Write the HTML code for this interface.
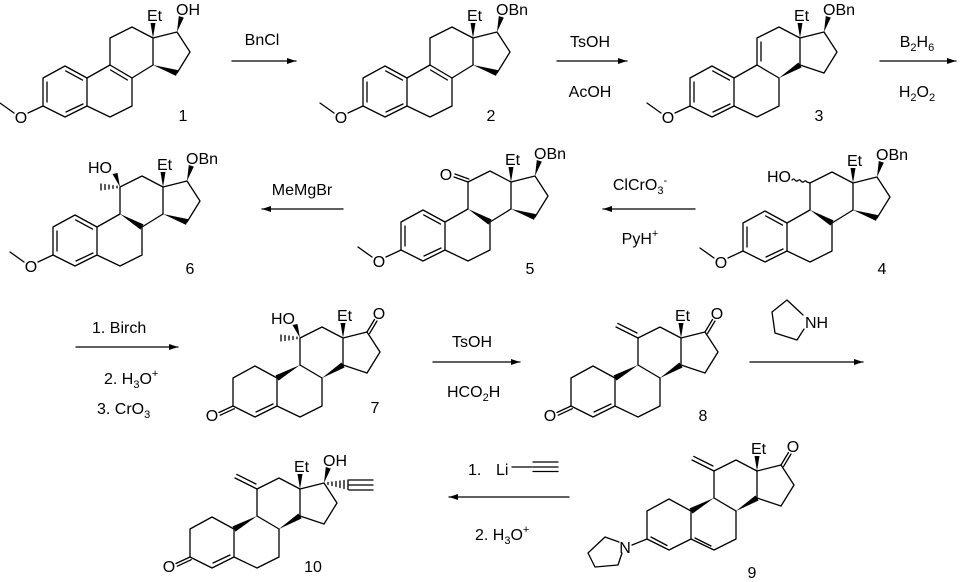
<!DOCTYPE html>
<html><head><meta charset="utf-8"><style>
html,body{margin:0;padding:0;background:#fff;}
svg{display:block;}
text{font-family:"Liberation Sans",Arial,sans-serif;font-size:16px;fill:#000;}
.b{fill:none;stroke:#000;stroke-width:1.3;stroke-linecap:round;stroke-linejoin:round;}
.w{fill:#000;stroke:none;}
</style></head><body>
<svg width="960" height="582" viewBox="0 0 960 582" xmlns="http://www.w3.org/2000/svg">
<defs>
<path id="sk" class="b" d="M65,66 L43,78 L43,106 L65,117 L87,106 L87,78 Z M87,106 L110,117 L132,106 L132,78 M110,65 L110,38 L132,27 L153,38 L153,65 M153,38 L177,32 L190,52 L177,73"/>
<path id="aro" class="b" d="M47,82 L47,102 M65.7,70.9 L82.5,80.1 M66,112 L83,104 M43,106 L28,113 M14,113 L0,103"/>
<polygon id="w1415" class="w" points="153,65 176.05,75.85 177.95,70.15"/>
<polygon id="w98" class="w" points="110,65 130.47,80.58 133.53,75.42"/>
<polygon id="w814" class="w" points="132,78 154.58,67.55 151.42,62.45"/>
<polygon id="w910" class="w" points="110,65 85.52,75.39 88.48,80.61"/>
<polygon id="wEt" class="w" points="153,38 150.5,23 155.5,23"/>
<polygon id="wO17" class="w" points="177,32 178.8,16 183.8,17.6"/>
<path id="l910" class="b" d="M87,78 L110,65"/>
<path id="l98" class="b" d="M110,65 L132,78"/>
<path id="l814" class="b" d="M132,78 L153,65"/>
<path id="l1415" class="b" d="M153,65 L177,73"/>
<path id="meth" class="b" d="M110,38 L88,27 M109,33 L89.8,23.4"/>
<path id="k17" class="b" d="M177,32 L184.5,19.5 M179.5,33.6 L187,21"/>
<path id="k3" class="b" d="M43,106 L29,112.5 M44.3,108.7 L30.3,115.2 M66,112 L83,104"/>
<g id="ohme">
<polygon class="w" points="110,38 102.5,25 107.5,24"/>
<path class="b" d="M107,37.2 L107,38.8 M103,36.6 L103,39.4 M99,36 L99,40 M95,35.5 L95,40.5 M91,35 L91,41"/>
</g>
<marker id="ah" markerWidth="10" markerHeight="8" refX="9" refY="4" orient="auto" markerUnits="userSpaceOnUse">
<path d="M0,1 L9,4 L0,7 Z" fill="#000"/></marker>
</defs>

<!-- 1 -->
<g transform="translate(0,0)">
<use href="#sk"/><use href="#aro"/>
<use href="#l910"/><use href="#l98"/><path class="b" d="M110.6,70 L127.4,80"/><use href="#l814"/><use href="#w1415"/>
<use href="#wEt"/><use href="#wO17"/>
<text x="21" y="123" text-anchor="middle">O</text>
<text x="147" y="21">Et</text><text x="176" y="15">OH</text>
</g>
<text x="183" y="121" text-anchor="middle">1</text>

<!-- 2 -->
<g transform="translate(320,0)">
<use href="#sk"/><use href="#aro"/>
<use href="#l910"/><use href="#l98"/><path class="b" d="M110.6,70 L127.4,80"/><use href="#l814"/><use href="#w1415"/>
<use href="#wEt"/><use href="#wO17"/>
<text x="21" y="123" text-anchor="middle">O</text>
<text x="147" y="21">Et</text><text x="176" y="15">OBn</text>
</g>
<text x="491" y="121" text-anchor="middle">2</text>

<!-- 3 -->
<g transform="translate(647,0)">
<use href="#sk"/><use href="#aro"/>
<use href="#l910"/><use href="#l98"/><use href="#w814"/><use href="#l1415"/>
<path class="b" d="M114,42 L114,61"/>
<use href="#wEt"/><use href="#wO17"/>
<text x="21" y="123" text-anchor="middle">O</text>
<text x="147" y="21">Et</text><text x="176" y="15">OBn</text>
</g>
<text x="819" y="121" text-anchor="middle">3</text>

<!-- 6 -->
<g transform="translate(10,149)">
<use href="#sk"/><use href="#aro"/>
<use href="#l910"/><use href="#w98"/><use href="#l814"/><use href="#w1415"/>
<use href="#ohme"/>
<use href="#wEt"/><use href="#wO17"/>
<text x="21" y="123" text-anchor="middle">O</text>
<text x="78" y="24">HO</text>
<text x="147" y="21">Et</text><text x="176" y="15">OBn</text>
</g>
<text x="190" y="274" text-anchor="middle">6</text>

<!-- 5 -->
<g transform="translate(358,144)">
<use href="#sk"/><use href="#aro"/>
<use href="#l910"/><use href="#w98"/><use href="#l814"/><use href="#w1415"/>
<path class="b" d="M110,38 L96,33 M110.8,35 L97,30"/>
<use href="#wEt"/><use href="#wO17"/>
<text x="21" y="123" text-anchor="middle">O</text>
<text x="88" y="36" text-anchor="middle">O</text>
<text x="147" y="21">Et</text><text x="176" y="15">OBn</text>
</g>
<text x="530" y="274" text-anchor="middle">5</text>

<!-- 4 -->
<g transform="translate(700,145)">
<use href="#sk"/><use href="#aro"/>
<use href="#l910"/><use href="#w98"/><use href="#l814"/><use href="#w1415"/>
<path class="b" d="M92,35 q1.5,-2 3,0 t3,0.5 t3,0.5 t3,0.5 t3,0.5 L110,38"/>
<use href="#wEt"/><use href="#wO17"/>
<text x="21" y="123" text-anchor="middle">O</text>
<text x="67" y="37">HO</text>
<text x="147" y="21">Et</text><text x="176" y="15">OBn</text>
</g>
<text x="882" y="274" text-anchor="middle">4</text>

<!-- 7 -->
<g transform="translate(190,300)">
<use href="#sk"/><use href="#k3"/>
<use href="#w910"/><use href="#l98"/><use href="#w814"/><use href="#l1415"/>
<use href="#ohme"/><use href="#wEt"/><use href="#k17"/>
<text x="22" y="121" text-anchor="middle">O</text>
<text x="81" y="24">HO</text>
<text x="147" y="21">Et</text>
<text x="189" y="19" text-anchor="middle">O</text>
</g>
<text x="375" y="413" text-anchor="middle">7</text>

<!-- 8 -->
<g transform="translate(528,300)">
<use href="#sk"/><use href="#k3"/>
<use href="#w910"/><use href="#l98"/><use href="#w814"/><use href="#l1415"/>
<use href="#meth"/><use href="#wEt"/><use href="#k17"/>
<text x="22" y="121" text-anchor="middle">O</text>
<text x="147" y="21">Et</text>
<text x="189" y="19" text-anchor="middle">O</text>
</g>
<text x="703" y="421" text-anchor="middle">8</text>

<!-- 9 -->
<g transform="translate(604,433)">
<use href="#sk"/>
<path class="b" d="M47,104 L63,112.5 M91,105 L107,113 M43,106 L28,112"/>
<use href="#w910"/><use href="#l98"/><use href="#w814"/><use href="#l1415"/>
<use href="#meth"/><use href="#wEt"/><use href="#k17"/>
<text x="21" y="120" text-anchor="middle">N</text>
<text x="147" y="21">Et</text>
<text x="189" y="19" text-anchor="middle">O</text>
</g>
<path class="b" d="M619,542 L605,537 L588,553 L595,567 L618,565 L622,553"/>
<text x="752" y="578" text-anchor="middle">9</text>

<!-- 10 -->
<g transform="translate(147,451)">
<use href="#sk"/><use href="#k3"/>
<use href="#w910"/><use href="#l98"/><use href="#w814"/><use href="#l1415"/>
<use href="#meth"/><use href="#wEt"/><use href="#wO17"/>
<path class="b" d="M181,31.5 L181,33.5 M185,31 L185,34.5 M189,30.5 L189,35.5 M193,30 L193,36.5 M197,29.5 L197,37.5 M201,29 L201,38.5 M202,29 L226,29 M202,34 L226,34 M202,39 L226,39"/>
<text x="22" y="121" text-anchor="middle">O</text>
<text x="147" y="21">Et</text><text x="176" y="15">OH</text>
</g>
<text x="313" y="572" text-anchor="middle">10</text>

<!-- arrows -->
<g class="b" marker-end="url(#ah)">
<line x1="232" y1="61" x2="296" y2="61"/>
<line x1="557" y1="61" x2="627" y2="61"/>
<line x1="880" y1="61" x2="956" y2="61"/>
<line x1="343" y1="209" x2="262" y2="209"/>
<line x1="695" y1="209" x2="603" y2="209"/>
<line x1="76" y1="347" x2="178" y2="347"/>
<line x1="433" y1="362" x2="520" y2="362"/>
<line x1="750" y1="362" x2="863" y2="362"/>
<line x1="569" y1="497" x2="449" y2="497"/>
</g>

<!-- reagents -->
<text x="262" y="45" text-anchor="middle">BnCl</text>
<text x="590" y="47" text-anchor="middle">TsOH</text>
<text x="590" y="97" text-anchor="middle">AcOH</text>
<text x="917" y="47" text-anchor="middle">B<tspan font-size="11" dy="4">2</tspan><tspan dy="-4">H</tspan><tspan font-size="11" dy="4">6</tspan></text>
<text x="917" y="97" text-anchor="middle">H<tspan font-size="11" dy="4">2</tspan><tspan dy="-4">O</tspan><tspan font-size="11" dy="4">2</tspan></text>
<text x="302" y="195" text-anchor="middle">MeMgBr</text>
<text x="640" y="190" text-anchor="middle">ClCrO<tspan font-size="11" dy="4">3</tspan><tspan font-size="11" dy="-10">-</tspan></text>
<text x="640" y="244" text-anchor="middle">PyH<tspan font-size="11" dy="-7">+</tspan></text>
<text x="92" y="333">1. Birch</text>
<text x="104" y="384">2. H<tspan font-size="11" dy="4">3</tspan><tspan dy="-4">O</tspan><tspan font-size="11" dy="-7">+</tspan></text>
<text x="97" y="414">3. CrO<tspan font-size="11" dy="4">3</tspan></text>
<text x="452" y="347">TsOH</text>
<text x="447" y="397">HCO<tspan font-size="11" dy="4">2</tspan><tspan dy="-4">H</tspan></text>
<path class="b" d="M803,315 L787,300 L772,312 L775,333 L797,340 L804,329"/>
<text x="805" y="328">NH</text>
<text x="468" y="475">1.</text>
<text x="496" y="475">Li</text>
<path class="b" d="M512,467 L532,467 M533,462 L558,462 M533,467 L558,467 M533,471.5 L558,471.5"/>
<text x="475" y="540">2. H<tspan font-size="11" dy="4">3</tspan><tspan dy="-4">O</tspan><tspan font-size="11" dy="-7">+</tspan></text>
</svg>
</body></html>
